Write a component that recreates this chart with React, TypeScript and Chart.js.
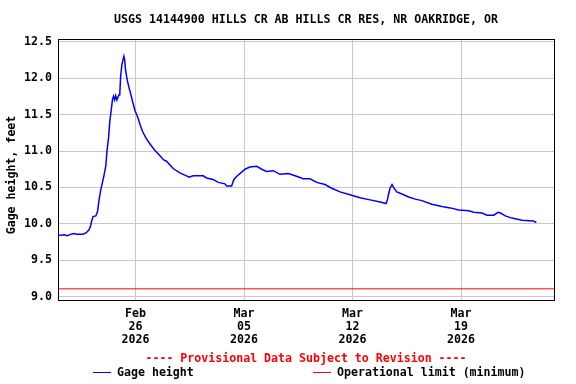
import React, { useEffect, useRef } from "react";
import { Chart, registerables } from "chart.js";

Chart.register(...registerables);

// Time in days since Feb 21 2026 00:00
const gageDays = [
  0, 0.4, 0.6, 0.85, 1.0, 1.2, 1.6, 1.83, 2.0, 2.1, 2.16, 2.26, 2.44, 2.55, 2.65, 2.76, 2.86, 2.97,
  3.08, 3.17, 3.26, 3.34, 3.45, 3.51, 3.58, 3.65, 3.72, 3.8, 3.87, 3.94, 3.99, 4.04, 4.12, 4.19,
  4.25, 4.3, 4.36, 4.46, 4.57, 4.68, 4.81, 4.96, 5.13, 5.3, 5.45, 5.67, 5.89, 6.2, 6.52, 6.8, 7.0,
  7.43, 7.86, 8.29, 8.46, 8.72, 9.37, 9.58, 10.0, 10.34, 10.77, 10.88, 11.2, 11.35, 11.52, 11.85,
  12.06, 12.38, 12.82, 13.14, 13.46, 13.89, 14.32, 14.86, 15.29, 15.83, 16.26, 16.69, 17.23, 17.66,
  18.2, 18.84, 19.49, 20.13, 20.78, 21.17, 21.25, 21.33, 21.42, 21.55, 21.68, 21.86, 22.19, 22.62,
  23.05, 23.48, 24.12, 24.77, 25.31, 25.85, 26.5, 26.82, 27.36, 27.68, 28.11, 28.39, 28.55, 28.86,
  29.29, 29.94, 30.68, 30.86,
];
const gageHeight = [
  9.84, 9.85, 9.84, 9.86, 9.87, 9.86, 9.86, 9.88, 9.92, 9.97, 10.03, 10.1, 10.11, 10.17, 10.33, 10.47,
  10.56, 10.67, 10.79, 11.02, 11.18, 11.4, 11.59, 11.7, 11.75, 11.7, 11.76, 11.7, 11.74, 11.77, 11.8,
  12.02, 12.18, 12.25, 12.3, 12.25, 12.11, 11.98, 11.88, 11.79, 11.68, 11.56, 11.47, 11.36, 11.27,
  11.18, 11.11, 11.02, 10.95, 10.88, 10.86, 10.76, 10.7, 10.66, 10.64, 10.66, 10.66, 10.63, 10.61,
  10.57, 10.55, 10.52, 10.52, 10.61, 10.65, 10.71, 10.75, 10.78, 10.79, 10.75, 10.72, 10.73, 10.68,
  10.69, 10.66, 10.62, 10.62, 10.57, 10.54, 10.49, 10.44, 10.4, 10.36, 10.33, 10.3, 10.28, 10.33,
  10.41, 10.49, 10.54, 10.49, 10.44, 10.41, 10.37, 10.34, 10.32, 10.27, 10.24, 10.22, 10.19, 10.18,
  10.16, 10.15, 10.12, 10.12, 10.16, 10.15, 10.11, 10.08, 10.05, 10.04, 10.02,
];
const limitDays = [0, 32];
const limitValue = [9.11, 9.11];

const xTickDays = [5, 12, 19, 26];
const xTickLabels = [
  ["Feb", "26", "2026"],
  ["Mar", "05", "2026"],
  ["Mar", "12", "2026"],
  ["Mar", "19", "2026"],
];
const yTicks = [9.0, 9.5, 10.0, 10.5, 11.0, 11.5, 12.0, 12.5];

const TITLE = "USGS 14144900 HILLS CR AB HILLS CR RES, NR OAKRIDGE, OR";
const Y_TITLE = "Gage height, feet";
const PROVISIONAL = "---- Provisional Data Subject to Revision ----";
const LEGEND_GAGE = "Gage height";
const LEGEND_LIMIT = "Operational limit (minimum)";

const FONT_FAMILY = "'DejaVu Sans Mono', 'Liberation Mono', monospace";
const FONT = `bold 11.6px ${FONT_FAMILY}`;

const textPlugin = {
  id: "usgsText",
  afterDraw(chart: any) {
    const ctx = chart.ctx as CanvasRenderingContext2D;
    const a = chart.chartArea;
    ctx.save();
    // plot border
    ctx.strokeStyle = "#000";
    ctx.lineWidth = 1;
    ctx.strokeRect(Math.round(a.left) + 0.5, Math.round(a.top) + 0.5, Math.round(a.right - a.left), Math.round(a.bottom - a.top));

    ctx.font = FONT;
    ctx.textBaseline = "middle";
    ctx.textAlign = "center";
    ctx.fillStyle = "#000";
    ctx.fillText(TITLE, (a.left + a.right) / 2, 20);

    // y title
    ctx.save();
    ctx.translate(12, 175);
    ctx.rotate(-Math.PI / 2);
    ctx.fillText(Y_TITLE, 0, 0);
    ctx.restore();

    // provisional note
    ctx.fillStyle = "#ff0000";
    ctx.fillText(PROVISIONAL, (a.left + a.right) / 2, 359);

    // legend
    const ds = chart.data.datasets;
    ctx.textAlign = "left";
    ctx.lineWidth = 1;
    ctx.strokeStyle = ds[0].borderColor;
    ctx.beginPath();
    ctx.moveTo(93, 372.5);
    ctx.lineTo(111, 372.5);
    ctx.stroke();
    ctx.fillStyle = "#000";
    ctx.fillText(LEGEND_GAGE, 117, 373);

    ctx.strokeStyle = ds[1].borderColor;
    ctx.beginPath();
    ctx.moveTo(313, 372.5);
    ctx.lineTo(331, 372.5);
    ctx.stroke();
    ctx.fillText(LEGEND_LIMIT, 337, 373);
    ctx.restore();
  },
};

export default function App() {
  const ref = useRef<HTMLCanvasElement>(null);
  useEffect(() => {
    if (!ref.current) return;
    const chart = new Chart(ref.current, {
      type: "line",
      data: {
        datasets: [
          {
            label: LEGEND_GAGE,
            data: gageDays.map((d, i) => ({ x: d, y: gageHeight[i] })),
            borderColor: "#0000ff",
            borderWidth: 1.5,
            pointRadius: 0,
            tension: 0,
            fill: false,
          },
          {
            label: LEGEND_LIMIT,
            data: limitDays.map((d, i) => ({ x: d, y: limitValue[i] })),
            borderColor: "#ff0000",
            borderWidth: 1,
            pointRadius: 0,
            fill: false,
          },
        ],
      },
      options: {
        animation: false,
        responsive: false,
        events: [],
        layout: { padding: { left: 0, right: 22, top: 39, bottom: 34 } },
        plugins: {
          legend: { display: false },
          title: { display: false },
          tooltip: { enabled: false },
        },
        scales: {
          x: {
            type: "linear",
            min: 0,
            max: 32,
            afterFit: (s: any) => {
              s.height = 50;
            },
            afterBuildTicks: (s: any) => {
              s.ticks = xTickDays.map((v) => ({ value: v }));
            },
            grid: { color: "#c8c8c8", lineWidth: 1, drawTicks: false },
            border: { display: false },
            ticks: {
              padding: 7,
              maxRotation: 0,
              autoSkip: false,
              color: "#000",
              font: { family: FONT_FAMILY, size: 11.6, weight: "bold", lineHeight: "13px" } as any,
              callback: (v: any) => {
                const i = xTickDays.indexOf(Number(v));
                return i >= 0 ? xTickLabels[i] : "";
              },
            },
          },
          y: {
            type: "linear",
            min: 8.957,
            max: 12.536,
            afterFit: (s: any) => {
              s.width = 58;
            },
            afterBuildTicks: (s: any) => {
              s.ticks = yTicks.map((v) => ({ value: v }));
            },
            grid: { color: "#c8c8c8", lineWidth: 1, drawTicks: false },
            border: { display: false },
            ticks: {
              padding: 6,
              color: "#000",
              font: { family: FONT_FAMILY, size: 11.6, weight: "bold" } as any,
              callback: (v: any) => Number(v).toFixed(1),
            },
          },
        },
      },
      plugins: [textPlugin],
    });
    return () => chart.destroy();
  }, []);
  return (
    <div style={{ position: "fixed", left: 0, top: 0, width: 576, height: 384, background: "#fff" }}>
      <canvas ref={ref} width={576} height={384} style={{ display: "block" }} />
    </div>
  );
}
